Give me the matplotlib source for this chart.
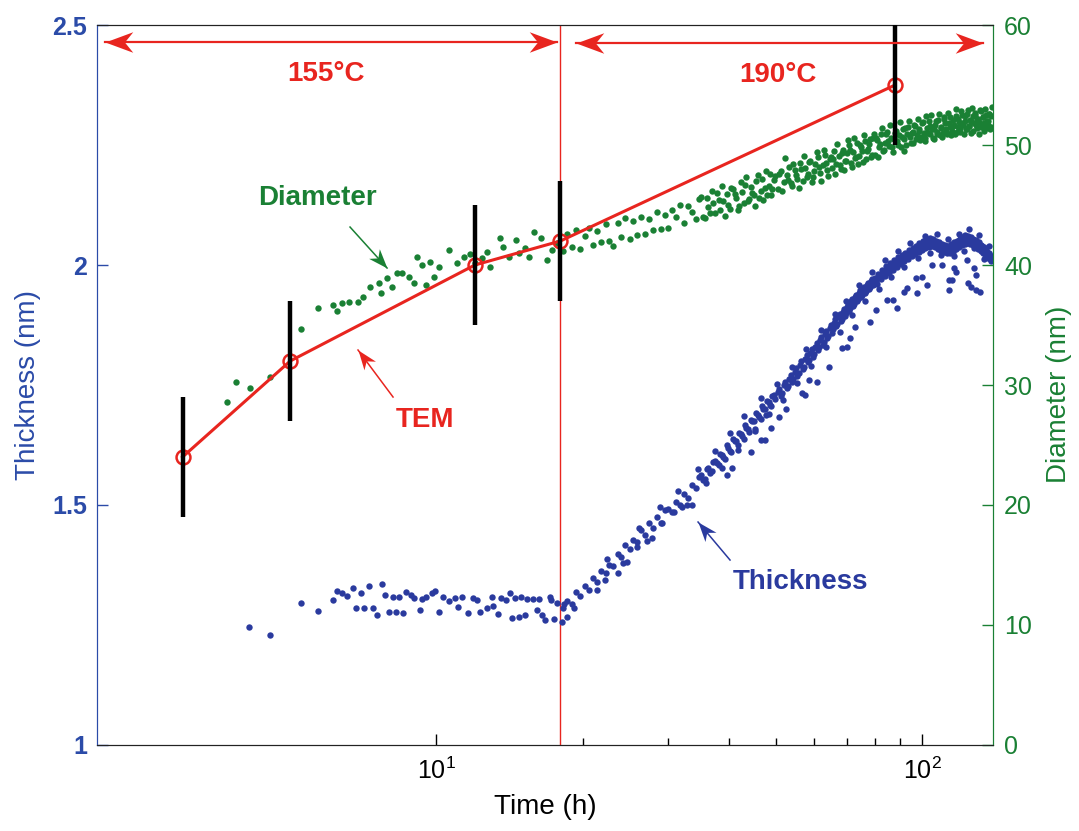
import matplotlib
matplotlib.use('Agg')
import matplotlib.pyplot as plt
from matplotlib.ticker import FixedLocator, NullFormatter
from matplotlib.path import Path
from matplotlib.markers import MarkerStyle
from matplotlib.transforms import Affine2D

plt.rcParams['font.family'] = ['Liberation Sans', 'DejaVu Sans']
plt.rcParams['mathtext.fontset'] = 'custom'
plt.rcParams['mathtext.rm'] = 'Liberation Sans'

BLUE = '#2a3a9e'
BLUE_TXT = '#2b4ba8'
GREEN = '#1a8034'
RED = '#e8251f'

# TEM thickness (left axis) with error bars
tem_t = [3.0, 5.0, 12.0, 18.0, 88.0]
tem_thick = [1.60, 1.80, 2.00, 2.05, 2.375]
tem_err = [0.125, 0.125, 0.125, 0.125, 0.125]

# diameter, 155 C part (right axis)
t_diam_early = [3.7, 3.87, 4.13, 4.54, 5.27, 5.69, 6.11, 6.25, 6.4, 6.6,
                6.9, 7.05, 7.3, 7.6, 7.7, 7.9, 8.1, 8.3, 8.5, 8.8,
                9.0, 9.1, 9.35, 9.5, 9.7, 9.9, 10.1, 10.6, 11.0, 11.4,
                11.7, 12.0, 12.4, 12.7, 12.9, 13.5, 13.7, 14.1, 14.6, 14.8,
                15.2, 15.5, 15.9, 16.4, 16.9, 17.3, 17.7]
diam_early = [28.6, 30.25, 29.75, 30.7, 34.7, 36.4, 36.7, 36.2, 36.8, 36.9,
              36.9, 37.3, 38.2, 38.5, 37.7, 38.9, 38.2, 39.3, 39.3, 39.0,
              38.5, 40.7, 40.0, 38.3, 40.25, 39.0, 39.8, 41.25, 40.2, 40.7,
              40.9, 40.2, 40.6, 41.1, 39.8, 42.25, 41.5, 40.7, 42.1, 41.0,
              41.4, 40.7, 42.75, 42.25, 40.4, 41.25, 41.8]

# thickness, 155 C part
t_thick_early = [4.12, 4.55, 5.27, 5.69, 6.11, 6.25, 6.4, 6.53, 6.72, 6.82,
                 6.98, 7.11, 7.25, 7.39, 7.56, 7.71, 7.82, 7.97, 8.12, 8.27,
                 8.39, 8.55, 8.67, 8.88, 9.01, 9.23, 9.36, 9.54, 9.77, 9.95,
                 10.1, 10.3, 10.6, 10.9, 11.1, 11.3, 11.6, 11.9, 12.1, 12.3,
                 12.7, 13.0, 13.1, 13.4, 13.6, 13.9, 14.2, 14.3, 14.5, 14.8,
                 14.9, 15.2, 15.4, 15.8, 16.1, 16.3, 16.5, 16.7, 17.1, 17.2,
                 17.5, 17.7, 18.1, 18.3, 18.6]
thick_early = [1.246, 1.229, 1.296, 1.279, 1.302, 1.321, 1.317, 1.310, 1.327, 1.285,
               1.317, 1.285, 1.331, 1.285, 1.271, 1.335, 1.313, 1.277, 1.308, 1.277,
               1.308, 1.275, 1.319, 1.313, 1.306, 1.281, 1.304, 1.308, 1.317, 1.321,
               1.277, 1.308, 1.300, 1.306, 1.287, 1.308, 1.275, 1.306, 1.302, 1.277,
               1.285, 1.308, 1.290, 1.273, 1.306, 1.302, 1.317, 1.265, 1.306, 1.267,
               1.308, 1.271, 1.304, 1.304, 1.281, 1.304, 1.271, 1.260, 1.308, 1.302,
               1.263, 1.296, 1.256, 1.294, 1.267]

# 190 C part, first pass: scan times shared by diameter and thickness
t_scan = [18.2, 18.6, 19.0, 19.4, 19.8, 20.2, 20.6, 21.0, 21.4, 21.8,
          22.3, 22.7, 23.1, 23.6, 24.0, 24.5, 25.0, 25.4, 25.9, 26.4,
          26.9, 27.4, 27.9, 28.4, 29.0, 29.5,
          30.0, 30.6, 31.2, 31.8, 32.4, 33.0, 33.6, 34.2, 34.8, 35.4,
          36.0, 36.6, 37.2, 37.8, 38.4, 39.0, 39.6, 40.2, 40.8, 41.4,
          42.0, 42.6, 43.2, 43.8, 44.4, 45.0, 45.6, 46.2, 46.8, 47.4,
          48.0, 48.6, 49.2, 49.8,
          50.5, 51.2, 51.9, 52.6, 53.3, 54.0, 54.7, 55.4, 56.1, 56.8,
          57.5, 58.2, 58.9, 59.6, 60.3, 61.0, 61.7, 62.4, 63.1, 63.8,
          64.5, 65.2, 65.9, 66.6, 67.3, 68.0, 68.7, 69.4, 70.1, 70.8,
          71.5, 72.2, 72.9, 73.6, 74.3, 75.0, 75.7, 76.4, 77.1, 77.8,
          78.5, 79.2,
          80.0, 80.8, 81.6, 82.4, 83.2, 84.0, 84.8, 85.6, 86.4, 87.2,
          88.0, 88.8, 89.6, 90.4, 91.2, 92.0, 92.8, 93.6, 94.4, 95.2,
          96.0, 96.8, 97.6, 98.4, 99.2, 100.0, 100.8, 101.6, 102.4, 103.2,
          104.0, 104.8, 105.6, 106.4, 107.2, 108.0, 108.8, 109.6, 110.4, 111.2,
          112.0, 112.8, 113.6, 114.4, 115.2, 116.0, 116.8, 117.6, 118.4, 119.2,
          120.0, 120.8, 121.6, 122.4, 123.2, 124.0, 124.8, 125.6, 126.4, 127.2,
          128.0, 128.8, 129.6, 130.4, 131.2, 132.0, 132.8, 133.6, 134.4, 135.2,
          136.0, 136.8, 137.6, 138.4, 139.2]
diam_scan = [41.2, 42.6, 41.5, 42.9, 41.3, 42.4, 43.1, 41.7, 42.8, 41.9,
             43.4, 42.0, 41.6, 43.5, 42.3, 43.9, 42.2, 43.7, 42.5, 44.0,
             42.6, 43.8, 42.9, 44.4, 43.0, 44.2,
             43.1, 44.6, 44.0, 45.0, 43.5, 44.9, 44.4, 43.8, 45.5, 44.0,
             45.6, 44.3, 45.2, 46.0, 44.6, 45.3, 45.9, 44.7, 46.3, 45.6,
             44.9, 46.1, 46.7, 45.3, 46.5, 45.8, 47.0, 45.6, 47.2, 46.4,
             45.8, 47.6, 46.3, 47.4,
             46.3, 47.8, 46.9, 47.5, 48.2, 46.6, 47.9, 47.2, 48.5, 47.0,
             48.1, 47.6, 48.7, 47.3, 48.4, 49.0, 47.7, 48.3, 49.2, 47.9,
             48.8, 48.1, 49.5, 48.4, 49.1, 48.0, 49.6, 48.7, 49.3, 50.0,
             48.5, 49.4, 48.9, 50.2, 49.1, 49.8, 48.6, 50.3, 49.5, 50.1,
             49.0, 50.6,
             49.2, 50.4, 49.8, 50.9, 49.5, 50.2, 51.1, 49.9, 50.6, 49.4,
             51.0, 50.3, 50.8, 49.8, 51.3, 50.5, 50.0, 51.5, 50.7, 51.0,
             50.2, 51.6, 50.8, 51.2, 50.4, 51.8, 51.0, 50.6, 51.4, 52.0,
             50.9, 51.3, 50.5, 51.7, 51.1, 52.1, 50.8, 51.5, 51.0, 52.2,
             51.3, 50.9, 51.8, 52.3, 51.2, 51.6, 50.9, 52.4, 51.5, 51.9,
             51.1, 52.5, 51.7, 52.0, 51.3, 52.6, 51.6, 52.1, 51.0, 52.4,
             51.8, 52.7, 51.4, 52.2, 51.9, 52.8, 51.6, 52.3, 51.2, 52.5,
             52.0, 51.7, 52.6, 51.5, 53.2]
thick_scan = [1.285, 1.300, 1.293, 1.318, 1.310, 1.331, 1.322, 1.347, 1.339, 1.362,
              1.358, 1.376, 1.372, 1.398, 1.391, 1.416, 1.408, 1.427, 1.422, 1.448,
              1.437, 1.462, 1.452, 1.474, 1.463, 1.489,
              1.492, 1.486, 1.507, 1.501, 1.522, 1.514, 1.541, 1.536, 1.558, 1.553,
              1.576, 1.566, 1.590, 1.587, 1.607, 1.601, 1.624, 1.612, 1.638, 1.633,
              1.651, 1.644, 1.667, 1.659, 1.678, 1.674, 1.692, 1.684, 1.707, 1.699,
              1.717, 1.709, 1.727, 1.721,
              1.736, 1.728, 1.751, 1.744, 1.762, 1.756, 1.778, 1.769, 1.791, 1.783,
              1.805, 1.797, 1.817, 1.808, 1.829, 1.822, 1.843, 1.834, 1.856, 1.847,
              1.868, 1.859, 1.880, 1.872, 1.891, 1.883, 1.903, 1.894, 1.913, 1.905,
              1.924, 1.915, 1.933, 1.925, 1.942, 1.934, 1.951, 1.942, 1.959, 1.950,
              1.966, 1.958,
              1.972, 1.961, 1.979, 1.970, 1.986, 1.978, 1.993, 1.984, 1.999, 1.990,
              2.006, 1.996, 2.011, 2.003, 2.017, 2.008, 2.022, 2.013, 2.027, 2.018,
              2.032, 2.022, 2.036, 2.027, 2.041, 2.031, 2.046, 2.035, 2.050, 2.038,
              2.052, 2.040, 2.049, 2.037, 2.047, 2.034, 2.043, 2.030, 2.040, 2.027,
              2.038, 2.026, 2.036, 2.024, 2.040, 2.028, 2.045, 2.033, 2.050, 2.037,
              2.054, 2.041, 2.058, 2.044, 2.060, 2.046, 2.057, 2.043, 2.055, 2.041,
              2.052, 2.038, 2.048, 2.034, 2.044, 2.030, 2.039, 2.025, 2.034, 2.020,
              2.028, 2.014, 2.022, 2.008, 2.015]

# 190 C part, second pass (interleaved scan times)
t_scan2 = [35.1, 35.7, 36.3, 36.9, 37.5, 38.1, 38.7, 39.3, 39.9, 40.5,
           41.1, 41.7, 42.3, 42.9, 43.5, 44.1, 44.7, 45.3, 45.9, 46.5,
           47.1, 47.7, 48.3, 48.9, 49.5,
           50.85, 51.55, 52.25, 52.95, 53.65, 54.35, 55.05, 55.75, 56.45, 57.15,
           57.85, 58.55, 59.25, 59.95, 60.65, 61.35, 62.05, 62.75, 63.45, 64.15,
           64.85, 65.55, 66.25, 66.95, 67.65, 68.35, 69.05, 69.75, 70.45, 71.15,
           71.85, 72.55, 73.25, 73.95, 74.65, 75.35, 76.05, 76.75, 77.45, 78.15,
           78.85, 79.55,
           80.4, 81.2, 82.0, 82.8, 83.6, 84.4, 85.2, 86.0, 86.8, 87.6,
           88.4, 89.2, 90.0, 90.8, 91.6, 92.4, 93.2, 94.0, 94.8, 95.6,
           96.4, 97.2, 98.0, 98.8, 99.6, 100.4, 101.2, 102.0, 102.8, 103.6,
           104.4, 105.2, 106.0, 106.8, 107.6, 108.4, 109.2, 110.0, 110.8, 111.6,
           112.4, 113.2, 114.0, 114.8, 115.6, 116.4, 117.2, 118.0, 118.8, 119.6,
           120.4, 121.2, 122.0, 122.8, 123.6, 124.4, 125.2, 126.0, 126.8, 127.6,
           128.4, 129.2, 130.0, 130.8, 131.6, 132.4, 133.2, 134.0, 134.8, 135.6,
           136.4, 137.2, 138.0, 138.8]
diam_scan2 = [45.7, 43.9, 44.8, 46.2, 44.3, 45.4, 46.6, 44.1, 45.0, 46.4,
              45.9, 44.6, 46.9, 45.2, 47.3, 45.5, 46.0, 44.9, 47.5, 46.2,
              45.4, 47.8, 46.6, 45.8, 47.1,
              47.6, 46.2, 48.9, 47.1, 46.8, 48.4, 47.5, 46.4, 48.0, 49.1,
              47.3, 48.6, 46.9, 47.8, 49.4, 48.2, 47.0, 49.6, 48.5, 47.4,
              49.0, 48.8, 47.6, 50.1, 48.3, 49.3, 47.9, 48.7, 50.4, 49.6,
              48.2, 50.6, 49.0, 48.4, 50.0, 49.5, 50.8, 48.8, 49.7, 50.5,
              49.2, 50.9,
              50.6, 49.0, 50.1, 51.4, 49.6, 50.9, 50.3, 51.7, 49.8, 50.5,
              51.2, 50.0, 51.9, 50.7, 49.5, 51.4, 50.9, 52.0, 50.2, 51.1,
              51.7, 50.5, 52.2, 51.3, 50.7, 51.9, 50.3, 52.4, 51.0, 51.6,
              52.5, 50.6, 51.3, 52.0, 50.9, 52.6, 51.4, 50.7, 52.3, 51.8,
              51.0, 52.7, 51.5, 50.8, 52.1, 51.7, 53.0, 51.1, 52.2, 51.4,
              52.8, 51.8, 50.9, 52.4, 51.3, 52.9, 51.6, 52.0, 53.1, 51.2,
              52.5, 51.7, 52.2, 50.9, 52.9, 51.5, 52.3, 51.8, 53.0, 51.4,
              52.0, 52.6, 51.3, 52.4]
thick_scan2 = [1.563, 1.555, 1.578, 1.570, 1.592, 1.583, 1.604, 1.596, 1.619, 1.610,
               1.633, 1.624, 1.647, 1.638, 1.661, 1.652, 1.674, 1.659, 1.688, 1.679,
               1.701, 1.688, 1.715, 1.706, 1.730,
               1.741, 1.733, 1.757, 1.747, 1.770, 1.762, 1.786, 1.776, 1.799, 1.788,
               1.812, 1.803, 1.825, 1.815, 1.838, 1.829, 1.851, 1.840, 1.863, 1.853,
               1.875, 1.866, 1.887, 1.877, 1.898, 1.888, 1.909, 1.899, 1.919, 1.910,
               1.929, 1.919, 1.938, 1.929, 1.947, 1.937, 1.955, 1.946, 1.963, 1.954,
               1.970, 1.961,
               1.966, 1.982, 1.974, 1.990, 1.981, 1.997, 1.988, 2.004, 1.994, 2.010,
               2.000, 2.016, 2.006, 2.021, 2.011, 2.026, 2.016, 2.031, 2.021, 2.035,
               2.026, 2.040, 2.030, 2.045, 2.034, 2.049, 2.038, 2.053, 2.042, 2.056,
               2.044, 2.055, 2.041, 2.051, 2.038, 2.047, 2.034, 2.044, 2.031, 2.041,
               2.029, 2.040, 2.030, 2.043, 2.033, 2.047, 2.037, 2.051, 2.041, 2.055,
               2.045, 2.059, 2.049, 2.062, 2.050, 2.060, 2.047, 2.058, 2.045, 2.055,
               2.042, 2.052, 2.038, 2.047, 2.033, 2.042, 2.028, 2.037, 2.023, 2.031,
               2.018, 2.025, 2.012, 2.019]

# thickness points scattered around the edges of the main band
t_thick_edge = [22.5, 24.2, 26.1, 27.1, 28.9, 31.5, 32.8, 34.5, 35.9, 37.4,
                38.7, 40.3, 41.8, 43.0, 45.2, 46.6, 48.3, 50.2, 51.7, 53.9,
                55.2, 57.8, 59.0, 61.9, 63.3, 66.1, 67.8, 69.6, 71.9, 74.1,
                76.2, 78.9, 81.4, 83.9, 86.2, 89.3, 91.8, 94.5, 97.9, 101.3,
                103.8, 107.1, 109.4, 113.1, 116.3, 119.1, 121.9, 124.7, 127.9, 131.0,
                133.9, 137.1]
thick_edge = [1.388, 1.380, 1.452, 1.425, 1.495, 1.530, 1.500, 1.575, 1.545, 1.612,
              1.578, 1.650, 1.615, 1.685, 1.655, 1.722, 1.690, 1.752, 1.718, 1.788,
              1.755, 1.825, 1.790, 1.865, 1.830, 1.898, 1.860, 1.925, 1.895, 1.958,
              1.925, 1.985, 1.950, 2.010, 1.975, 2.030, 1.995, 2.045, 2.015, 2.060,
              2.025, 2.065, 2.020, 2.055, 2.018, 2.065, 2.030, 2.075, 2.035, 2.062,
              2.012, 2.040]

# thickness points lying below the main band
t_thick_low = [19.2, 21.4, 22.2, 23.6, 24.7, 25.9, 27.8, 29.2, 30.8, 32.1,
               33.6, 39.7, 40.6, 44.4, 46.6, 48.9, 52.5, 57.3, 47.4, 50.8,
               56.6, 58.6, 60.7, 64.2, 68.3, 69.9, 71.0, 72.6, 78.3, 80.3,
               84.5, 87.3, 88.7, 91.6, 92.9, 97.5, 97.0, 100.0, 102.4, 104.8,
               110.0, 113.7, 115.5, 113.7, 116.5, 117.5, 123.6, 124.6, 126.0, 128.0,
               129.0, 129.0, 131.6]
thick_low = [1.285, 1.323, 1.344, 1.358, 1.381, 1.413, 1.431, 1.462, 1.485, 1.496,
             1.500, 1.5625, 1.577, 1.610, 1.635, 1.660, 1.700, 1.729, 1.635, 1.683,
             1.733, 1.760, 1.756, 1.787, 1.827, 1.829, 1.848, 1.871, 1.881, 1.906,
             1.927, 1.927, 1.910, 1.944, 1.952, 1.942, 1.973, 1.975, 1.958, 2.000,
             2.000, 1.969, 1.969, 1.948, 1.994, 1.985, 2.010, 1.963, 1.954, 1.994,
             1.980, 1.948, 1.944]

fig = plt.figure(figsize=(10.79, 8.31), dpi=100)
ax = fig.add_axes([0.0899, 0.1035, 0.8304, 0.8664])
ax2 = ax.twinx()
ax.set_zorder(ax2.get_zorder() + 1)
ax.patch.set_visible(False)

dot = dict(ls='none', marker='o', ms=4.6, mec='none')

# diameter on right axis
ax2.plot(t_diam_early, diam_early, color=GREEN, **dot)
ax2.plot(t_scan, diam_scan, color=GREEN, **dot)
ax2.plot(t_scan2, diam_scan2, color=GREEN, **dot)

# thickness on left axis
ax.plot(t_thick_early, thick_early, color=BLUE, **dot)
ax.plot(t_scan, thick_scan, color=BLUE, **dot)
ax.plot(t_scan2, thick_scan2, color=BLUE, **dot)
ax.plot(t_thick_edge, thick_edge, color=BLUE, **dot)
ax.plot(t_thick_low, thick_low, color=BLUE, **dot)

ax.axvline(18, color=RED, lw=1.0, zorder=1)

ax.plot(tem_t, tem_thick, '-o', color=RED, lw=2.2, mfc='none', ms=10, mew=1.8, zorder=4)
ax.errorbar(tem_t, tem_thick, yerr=tem_err, fmt='none', ecolor='black',
            elinewidth=3.2, capsize=0, zorder=5)

ax.set_xscale('log')
ax.set_xlim(2, 140)
ax.set_ylim(1, 2.5)
ax2.set_ylim(0, 60)

ax.xaxis.set_major_locator(FixedLocator([10, 100]))
ax.set_xticklabels([r'$\mathregular{10^{1}}$', r'$\mathregular{10^{2}}$'])
ax.xaxis.set_minor_locator(FixedLocator([20, 30, 40, 50, 60, 70, 80, 90]))
ax.xaxis.set_minor_formatter(NullFormatter())
ax.tick_params(axis='x', which='major', direction='in', length=8, width=1,
               labelsize=18, pad=9, color='black')
ax.tick_params(axis='x', which='minor', direction='in', length=5, width=1, color='black')

ax.set_yticks([1, 1.5, 2, 2.5])
ax.set_yticklabels(['1', '1.5', '2', '2.5'], fontweight='bold')
ax.tick_params(axis='y', direction='in', length=8, width=1, colors=BLUE_TXT,
               labelsize=18, pad=7)
ax2.set_yticks([0, 10, 20, 30, 40, 50, 60])
ax2.tick_params(axis='y', direction='in', length=8, width=1, colors=GREEN,
                labelsize=18, pad=8)

for a in (ax, ax2):
    a.spines['left'].set_color(BLUE_TXT)
    a.spines['right'].set_color(GREEN)
    a.spines['top'].set_color('#222222')
    a.spines['bottom'].set_color('#222222')

ax.set_xlabel('Time (h)', fontsize=20, labelpad=7)
ax.set_ylabel('Thickness (nm)', fontsize=20, color=BLUE_TXT)
ax.yaxis.set_label_coords(-0.0625, 0.5)
ax2.set_ylabel('Diameter (nm)', fontsize=20, color=GREEN)
ax2.yaxis.set_label_coords(1.059, 0.4875)

# swept-back arrow head, tip at the origin
head = Path([(0, 0), (-1, 0.37), (-0.7, 0), (-1, -0.37), (0, 0)],
            [Path.MOVETO, Path.LINETO, Path.LINETO, Path.LINETO, Path.CLOSEPOLY])


def arrow(p0, p1, color, lw, size, angles):
    # shaft from p0 to p1 in axes fraction, heads at the listed ends
    ax.plot([p0[0], p1[0]], [p0[1], p1[1]], color=color, lw=lw,
            transform=ax.transAxes, clip_on=False, zorder=6)
    for pt, ang in angles:
        m = MarkerStyle(head, transform=Affine2D().rotate_deg(ang))
        ax.plot([pt[0]], [pt[1]], marker=m, ms=size, color=color, mec='none',
                ls='none', transform=ax.transAxes, clip_on=False, zorder=6)


# temperature regimes
arrow((0.0089, 0.976), (0.513, 0.976), RED, 1.6, 40,
      [((0.0089, 0.976), 180), ((0.513, 0.976), 0)])
arrow((0.5346, 0.975), (0.989, 0.975), RED, 1.6, 40,
      [((0.5346, 0.975), 180), ((0.989, 0.975), 0)])
ax.text(0.2556, 0.932, '155°C', transform=ax.transAxes, color=RED, fontsize=20,
        fontweight='bold', ha='center', va='center')
ax.text(0.760, 0.931, '190°C', transform=ax.transAxes, color=RED, fontsize=20,
        fontweight='bold', ha='center', va='center')

# series labels
ax.text(0.2455, 0.760, 'Diameter', transform=ax.transAxes, color=GREEN, fontsize=20,
        fontweight='bold', ha='center', va='center')
arrow((0.2824, 0.7194), (0.3237, 0.6625), GREEN, 1.1, 28, [((0.3237, 0.6625), -48)])
ax.text(0.366, 0.451, 'TEM', transform=ax.transAxes, color=RED, fontsize=20,
        fontweight='bold', ha='center', va='center')
arrow((0.3304, 0.4833), (0.2913, 0.5486), RED, 1.1, 28, [((0.2913, 0.5486), 127)])
ax.text(0.785, 0.226, 'Thickness', transform=ax.transAxes, color=BLUE, fontsize=20,
        fontweight='bold', ha='center', va='center')
arrow((0.7065, 0.2569), (0.6708, 0.3097), BLUE, 1.1, 28, [((0.6708, 0.3097), 130)])

fig.savefig('out.png', dpi=100)
